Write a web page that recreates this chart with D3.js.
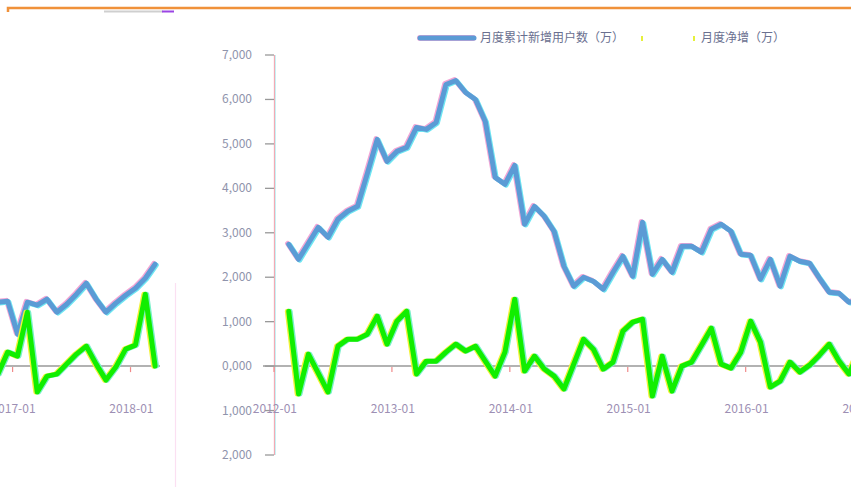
<!DOCTYPE html>
<html><head><meta charset="utf-8">
<script src="https://cdn.jsdelivr.net/npm/d3@7/dist/d3.min.js"></script>
<style>html,body{margin:0;padding:0;background:#fff}svg{display:block}</style>
</head><body>
<svg id="c" width="851" height="491"></svg>
<script>
const categories = [
"2012-01","2012-02","2012-03","2012-04","2012-05","2012-06","2012-07","2012-08","2012-09","2012-10","2012-11","2012-12",
"2013-01","2013-02","2013-03","2013-04","2013-05","2013-06","2013-07","2013-08","2013-09","2013-10","2013-11","2013-12",
"2014-01","2014-02","2014-03","2014-04","2014-05","2014-06","2014-07","2014-08","2014-09","2014-10","2014-11","2014-12",
"2015-01","2015-02","2015-03","2015-04","2015-05","2015-06","2015-07","2015-08","2015-09","2015-10","2015-11","2015-12",
"2016-01","2016-02","2016-03","2016-04","2016-05","2016-06","2016-07","2016-08","2016-09","2016-10","2016-11","2016-12",
"2017-01","2017-02","2017-03","2017-04","2017-05","2017-06","2017-07","2017-08","2017-09","2017-10","2017-11","2017-12",
"2018-01","2018-02","2018-03"];
const xLabels = ["2012-01","2013-01","2014-01","2015-01","2016-01","2017-01","2018-01"];
const seriesNames = ["月度累计新增用户数（万）", "月度净增（万）"];
const seriesA = [null,
 2741,2404,2764,3124,2899,3303,3483,3595,4337,5101,
 4607,4831,4921,5371,5326,5483,6337,6427,6157,6000,
 5506,4247,4090,4517,3191,3595,3371,3034,2247,1798,
 2000,1910,1730,2112,2472,2022,3236,2067,2404,2112,
 2697,2697,2562,3079,3191,3034,2517,2494,1955,2404,
 1798,2472,2360,2315,1978,1663,1640,1438,1461,719,
 1438,1371,1506,1213,1393,1618,1865,1506,1213,1416,
 1595,1753,1978,2292];
const seriesB = [null,
 1236,-629,270,-157,-584,449,607,607,719,1124,
 494,1011,1236,-180,112,112,315,494,337,449,
 112,-225,314,1506,-112,225,-67,-225,-517,45,
 607,382,-67,90,786,989,1056,-674,225,-562,
 0,90,472,854,45,-45,315,1011,539,-472,
 -337,90,-135,22,247,494,112,-180,315,225,
 1213,-584,-225,-180,45,270,449,45,-315,-22,
 382,472,1618,0];
const yTicks = [7000,6000,5000,4000,3000,2000,1000,0,-1000,-2000];
const yTickLabels = ["7,000","6,000","5,000","4,000","3,000","2,000","1,000","0,000","1,000","2,000"];

const W = 851, SHIFT = 175;
const svg = d3.select("#c");
const FONT = "'Noto Sans CJK SC','Noto Sans',sans-serif";

// page decorations
svg.append("path").attr("d","M8,12 L8,8 L851,8").attr("fill","none")
  .attr("stroke","#f0913a").attr("stroke-width",2.5);
svg.append("line").attr("x1",104).attr("x2",163).attr("y1",11.5).attr("y2",11.5)
  .attr("stroke","#cfcfcf").attr("stroke-width",2);
svg.append("line").attr("x1",162).attr("x2",174).attr("y1",11.5).attr("y2",11.5)
  .attr("stroke","#9b45e4").attr("stroke-width",2);
svg.append("line").attr("x1",175.5).attr("x2",175.5).attr("y1",283).attr("y2",487)
  .attr("stroke","#fbe0f2").attr("stroke-width",1.2);

// chart drawn in its own coordinates; lo/hi = part of it that this copy shows
function drawChart(g, lo, hi){
  const vis = (a, b) => b > lo && a < hi;
  const x = d3.scaleBand().domain(categories).range([99, 836]);
  const y = d3.scaleLinear().domain([-2000, 7000]).range([455, 55]);
  const cx = d => x(d) + x.bandwidth()/2;

  // y axis
  const ya = g.append("g");
  ya.append("line").attr("x1",99.5).attr("x2",99.5).attr("y1",y(7000)).attr("y2",y(-2000))
    .attr("stroke","#f2aab4").attr("stroke-width",1.3);
  ya.append("line").attr("x1",100.5).attr("x2",100.5).attr("y1",y(7000)).attr("y2",y(-2000))
    .attr("stroke","#b8f0f4").attr("stroke-width",0.8);
  ya.selectAll("line.t").data(yTicks).join("line").attr("class","t")
    .attr("x1",90).attr("x2",99).attr("y1",d=>y(d)).attr("y2",d=>y(d))
    .attr("stroke","#999").attr("stroke-width",1.3);
  if (vis(30, 80)) {
    ya.selectAll("text").data(yTicks).join("text")
      .attr("x",77).attr("y",d=>y(d)+4).attr("text-anchor","end")
      .attr("font-family",FONT).attr("font-size",12).attr("fill","#8f94ac")
      .text((d,i)=>yTickLabels[i]);
  }

  // zero line (x axis)
  g.append("line").attr("x1",88).attr("x2",836).attr("y1",y(0)).attr("y2",y(0))
    .attr("stroke","#999").attr("stroke-width",1.5);
  const tickIdx = xLabels.map(l => categories.indexOf(l));
  g.selectAll("line.xt").data(tickIdx).join("line").attr("class","xt")
    .attr("x1",i=>x(categories[i])).attr("x2",i=>x(categories[i]))
    .attr("y1",y(0)+1).attr("y2",y(0)+6).attr("stroke","#f08a8a").attr("stroke-width",1.2);
  g.selectAll("text.xl").data(xLabels.filter(d => vis(cx(d)-26, cx(d)+18))).join("text").attr("class","xl")
    .attr("x",d=>cx(d)-4).attr("y",413).attr("text-anchor","middle")
    .attr("font-family",FONT).attr("font-size",12).attr("fill","#9d8fb4")
    .text(d=>d);

  // series
  const mk = (vals) => d3.line().defined(d=>d[1]!=null)
    .x(d=>cx(d[0])).y(d=>y(d[1]))(categories.map((c,i)=>[c, vals[i]]));
  const drawSeries = (vals, main, f1, f2, o1, o2) => {
    const p = mk(vals);
    [[f1,o1],[f2,o2],[main,[0,0]]].forEach(([col,o])=>{
      g.append("path").attr("d",p).attr("fill","none").attr("stroke",col)
        .attr("stroke-width",5).attr("stroke-linejoin","round").attr("stroke-linecap","round")
        .attr("transform",`translate(${o[0]},${o[1]})`);
    });
  };
  drawSeries(seriesA, "#5b9bd5", "#f2a6d6", "#6ee6f2", [-1.2,-0.8], [1.2,0.8]);
  drawSeries(seriesB, "#11ee00", "#f2f23a", "#7af0c8", [-1.4,0], [1.4,0]);

  // legend
  if (vis(240, 630)) {
    const lg = g.append("g");
    lg.append("line").attr("x1",245).attr("x2",298).attr("y1",38).attr("y2",38)
      .attr("stroke","#f2a6d6").attr("stroke-width",6).attr("stroke-linecap","round");
    lg.append("line").attr("x1",245).attr("x2",299).attr("y1",38).attr("y2",38)
      .attr("stroke","#5b9bd5").attr("stroke-width",5).attr("stroke-linecap","round");
    lg.append("text").attr("x",305).attr("y",42).attr("font-family",FONT).attr("font-size",12)
      .attr("fill","#6a7090").text(seriesNames[0]);
    lg.append("rect").attr("x",466).attr("y",36).attr("width",2).attr("height",5).attr("fill","#e6f03a");
    lg.append("rect").attr("x",518).attr("y",36).attr("width",2).attr("height",5).attr("fill","#e6f03a");
    lg.append("text").attr("x",526).attr("y",42).attr("font-family",FONT).attr("font-size",12)
      .attr("fill","#6a7090").text(seriesNames[1]);
  }
}

const gA = svg.append("g").attr("transform",`translate(${SHIFT},0)`);
const gB = svg.append("g").attr("transform",`translate(${SHIFT - W},0)`);
drawChart(gA, 0, W - SHIFT);
drawChart(gB, W - SHIFT, W);
</script>
</body></html>
